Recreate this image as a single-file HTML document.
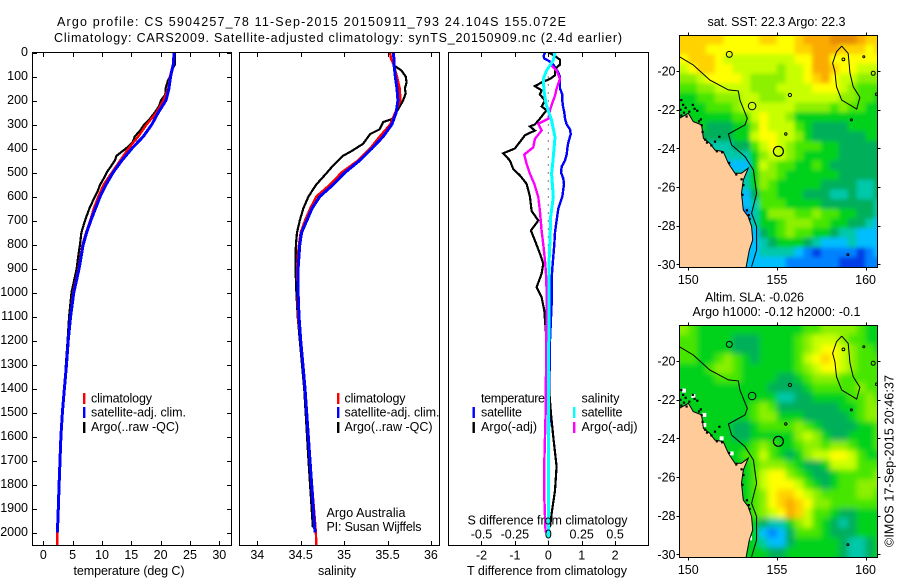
<!DOCTYPE html>
<html lang="en">
<head>
<meta charset="utf-8">
<title>Argo profile CS 5904257_78</title>
<style>
html,body{margin:0;padding:0;background:#fff;}
svg{display:block;font-family:"Liberation Sans",sans-serif;font-size:12.5px;fill:#000;}
text{fill:#000;}
</style>
</head>
<body>
<svg id="chart" xmlns="http://www.w3.org/2000/svg" width="900" height="580" viewBox="0 0 900 580">
<defs>
<clipPath id="clip-t"><rect x="32" y="52" width="200" height="494"/></clipPath>
<clipPath id="clip-s"><rect x="239" y="52" width="201" height="494"/></clipPath>
<clipPath id="clip-d"><rect x="448" y="52" width="201" height="494"/></clipPath>
<clipPath id="clip-m1"><rect x="679.5" y="35.5" width="198" height="231.5"/></clipPath>
<clipPath id="clip-m2"><rect x="679.5" y="325.5" width="198" height="231.5"/></clipPath>
<filter id="soften-sst" filterUnits="userSpaceOnUse" x="640" y="0" width="260" height="300"><feGaussianBlur stdDeviation="2"/></filter>
<filter id="soften-sla" filterUnits="userSpaceOnUse" x="640" y="290" width="260" height="290"><feGaussianBlur stdDeviation="2.8"/></filter>
</defs>
<rect x="0" y="0" width="900" height="580" fill="#fff"/>
<text x="57" y="26" textLength="509" lengthAdjust="spacing">Argo profile: CS 5904257_78 11-Sep-2015 20150911_793 24.104S 155.072E</text>
<text x="54" y="42" textLength="568" lengthAdjust="spacing">Climatology: CARS2009. Satellite-adjusted climatology: synTS_20150909.nc (2.4d earlier)</text>

<g id="map1"></g>
<g id="map2"></g>
<g id="panel-t"></g>
<g id="panel-s"></g>
<g id="panel-d"></g>

<text x="129" y="575" text-anchor="middle" textLength="111" lengthAdjust="spacing">temperature (deg C)</text>
<text x="337" y="575" text-anchor="middle" textLength="38" lengthAdjust="spacing">salinity</text>
<text x="467" y="575" textLength="160" lengthAdjust="spacing">T difference from climatology</text>
<text x="467.5" y="524.5" textLength="160" lengthAdjust="spacing">S difference from climatology</text>

<g>
<rect x="83" y="393" width="2.4" height="11" fill="#f00"/>
<rect x="83" y="407" width="2.4" height="11" fill="#00f"/>
<rect x="83" y="422" width="2.4" height="11" fill="#000"/>
<text x="91" y="402.5" textLength="61" lengthAdjust="spacing">climatology</text>
<text x="91" y="416.5" textLength="95" lengthAdjust="spacing">satellite-adj. clim.</text>
<text x="91" y="431" textLength="88" lengthAdjust="spacing">Argo(..raw -QC)</text>
</g>
<g>
<rect x="337" y="393" width="2.4" height="11" fill="#f00"/>
<rect x="337" y="407" width="2.4" height="11" fill="#00f"/>
<rect x="337" y="422" width="2.4" height="11" fill="#000"/>
<text x="344.5" y="402.5" textLength="61" lengthAdjust="spacing">climatology</text>
<text x="344.5" y="416.5" textLength="95" lengthAdjust="spacing">satellite-adj. clim.</text>
<text x="344.5" y="431" textLength="88" lengthAdjust="spacing">Argo(..raw -QC)</text>
<text x="326.5" y="517" textLength="79" lengthAdjust="spacing">Argo Australia</text>
<text x="326.5" y="531" textLength="95" lengthAdjust="spacing">PI: Susan Wijffels</text>
</g>
<g>
<text x="481" y="402.5" textLength="64" lengthAdjust="spacing">temperature</text>
<text x="481" y="416.5" textLength="41" lengthAdjust="spacing">satellite</text>
<text x="481" y="431" textLength="56" lengthAdjust="spacing">Argo(-adj)</text>
<rect x="472.5" y="407" width="2.4" height="11" fill="#00f"/>
<rect x="472.5" y="422" width="2.4" height="11" fill="#000"/>
<text x="581.5" y="402.5" textLength="38" lengthAdjust="spacing">salinity</text>
<text x="581.5" y="416.5" textLength="41" lengthAdjust="spacing">satellite</text>
<text x="581.5" y="431" textLength="56" lengthAdjust="spacing">Argo(-adj)</text>
<rect x="573" y="407" width="2.4" height="11" fill="#0ff"/>
<rect x="573" y="422" width="2.4" height="11" fill="#f0f"/>
</g>

<text x="707.5" y="26" textLength="138" lengthAdjust="spacing">sat. SST: 22.3 Argo: 22.3</text>
<text x="705" y="301.5" textLength="99" lengthAdjust="spacing">Altim. SLA: -0.026</text>
<text x="692.5" y="316" textLength="168" lengthAdjust="spacing">Argo h1000: -0.12 h2000: -0.1</text>
<text transform="translate(893.5,547) rotate(-90)" textLength="172" lengthAdjust="spacing">©IMOS 17-Sep-2015 20:46:37</text>
</svg>

<script>
// ---- depth axis ----
const depthTicks = [0,100,200,300,400,500,600,700,800,900,1000,1100,1200,1300,1400,1500,1600,1700,1800,1900,2000];
const tempTicks = [0,5,10,15,20,25,30];
const salTicks = [34,34.5,35,35.5,36];
const salTickLabels = ['34','34.5','35','35.5','36'];
const diffTTicks = [-2,-1,0,1,2];
const diffTLabels = ['-2','-1','0','1','2'];
const diffSTicks = [-0.5,-0.25,0,0.25,0.5];
const diffSLabels = ['-0.5','-0.25','0','0.25','0.5'];

// ---- temperature profiles ----
const tempClimDepth = [0,50,100,150,200,250,300,350,400,450,500,550,600,650,700,750,800,900,1000,1100,1200,1300,1400,1500,1600,1700,1800,1900,2000,2054];
const tempClim = [22.3,22.1,21.6,21.3,20.45,19.3,17.6,16.2,14.5,13.1,11.7,10.3,9.4,8.6,8.0,7.3,6.7,6.0,5.1,4.6,4.2,3.9,3.6,3.25,3.0,2.85,2.7,2.55,2.4,2.35];
const tempSatDepth = [0,50,100,150,200,250,300,350,400,450,500,550,600,650,700,750,800,900,1000,1100,1200,1300,1400,1500,1600,1700,1800,1900,2000];
const tempSat = [22.3,22.15,21.7,21.4,20.9,19.6,18.5,17.05,15.1,13.4,11.9,10.7,9.7,8.9,8.1,7.4,6.8,6.1,5.2,4.65,4.25,3.95,3.6,3.25,3.0,2.85,2.7,2.55,2.4];
const tempArgoDepth = [0,50,60,100,120,150,175,200,225,250,275,300,325,350,375,400,430,450,475,500,525,550,575,600,650,700,750,800,850,900,950,1000,1100,1200,1300,1400,1500,1600,1700,1800,1900,1980];
const tempArgo = [22.45,22.45,22.2,21.6,21.2,20.85,20.8,20.06,19.7,19.0,18.2,17.2,16.5,15.6,15.2,14.1,12.5,12.2,11.5,10.8,10.3,9.7,9.3,8.8,7.85,7.1,6.5,6.25,5.95,5.7,5.25,4.8,4.4,4.15,3.85,3.62,3.3,3.05,2.9,2.75,2.6,2.5];

// ---- salinity profiles ----
const salClimDepth = [0,25,50,100,150,200,250,300,350,400,450,500,550,600,650,700,750,800,850,900,1000,1100,1200,1300,1400,1700,2000,2054];
const salClim = [35.53,35.54,35.57,35.61,35.64,35.65,35.59,35.53,35.41,35.3,35.16,34.97,34.84,34.68,34.61,34.55,34.5,34.48,34.465,34.46,34.465,34.47,34.5,34.525,34.55,34.607,34.675,34.68];
const salSatDepth = [0,50,100,150,200,250,300,350,400,450,500,550,600,650,700,750,800,900,1000,1100,1200,1300,1400,1700,2000];
const salSat = [35.57,35.575,35.59,35.61,35.62,35.6,35.55,35.45,35.32,35.18,35.01,34.875,34.72,34.63,34.57,34.51,34.49,34.47,34.47,34.48,34.5,34.525,34.55,34.607,34.665];
const salArgoDepth = [0,40,55,75,100,125,150,170,200,225,250,275,290,320,340,380,410,430,470,510,550,600,650,700,750,800,900,1000,1100,1200,1300,1400,1700,1980];
const salArgo = [35.57,35.57,35.58,35.66,35.71,35.72,35.7,35.71,35.68,35.64,35.6,35.57,35.45,35.41,35.3,35.22,35.09,34.99,34.875,34.78,34.68,34.59,34.53,34.49,34.457,34.445,34.44,34.45,34.465,34.49,34.515,34.54,34.59,34.64];

// ---- difference profiles (T in deg C, S in psu) ----
const dTSatDepth = [0,15,25,40,60,80,100,125,150,175,200,225,250,275,300,320,340,375,400,425,450,475,500,525,550,600,650,700,750,800,850,900,950,1000,1050,1200,1400,1600,2000];
const dTSat = [-0.1,-0.14,-0.12,0.08,0.2,0.28,0.35,0.35,0.35,0.42,0.42,0.44,0.48,0.5,0.55,0.65,0.67,0.6,0.57,0.55,0.5,0.4,0.38,0.45,0.47,0.42,0.3,0.25,0.2,0.18,0.15,0.12,0.1,0.1,0.1,0.05,0.03,0.02,0.01];
const dTArgoDepth = [0,10,30,50,70,95,110,125,140,158,175,200,225,240,276,300,308,325,345,367,400,420,450,485,512,547,600,660,700,742,783,838,880,922,978,1020,1075,1117,1200,1300,1400,1505,1603,1725,1825,1922,1978];
const dTArgo = [0,0.15,0.35,0.35,0.2,0.2,0.05,-0.2,-0.4,-0.2,-0.25,-0.1,-0.2,-0.05,-0.25,-0.4,-0.55,-0.4,-0.7,-0.82,-1.0,-1.35,-1.15,-1.05,-0.85,-0.65,-0.55,-0.5,-0.3,-0.52,-0.4,-0.25,-0.15,-0.2,-0.35,-0.2,-0.12,-0.1,-0.05,0,0.02,0.08,0.15,0.25,0.2,0.1,0.05];
const dSArgoDepth = [35,54,75,110,150,180,210,240,276,297,325,360,395,425,464,505,547,603,660,742,800,867,922,992,1075,1505,1713,1852,2000];
const dSArgo = [0.02,0.025,0.0625,0.0875,0.0625,0.05,0.03,0.0125,0,-0.075,-0.05,-0.1,-0.1125,-0.18,-0.1625,-0.1375,-0.105,-0.075,-0.0625,-0.05,-0.0375,-0.025,-0.0175,-0.0125,-0.0125,-0.02,-0.03,-0.03,-0.02];
const dSSatDepth = [0,33,75,110,158,214,283,353,436,505,603,686,783,880,992,1117,1367,2020];
const dSSat = [0.05,0.0375,-0.0125,-0.0375,-0.0325,-0.0175,0.025,0.05,0.0375,0.025,0.0375,0.0175,0.0125,0.005,0.005,0.005,0,0];

// ---- map grids: colour level per 0.5 deg cell, north to south, west to east ----
const sstRow00 = [10,10,10,10,10,9,9,9,9,10,10,9,9,10,11,11,11,12,12,12,11,10,10];
const sstRow01 = [10,10,10,9,9,9,9,9,9,9,9,9,9,10,10,11,11,11,10,10,10,9,10];
const sstRow02 = [9,10,10,10,9,8,8,8,8,8,8,8,8,9,9,11,11,9,9,9,9,9,9];
const sstRow03 = [8,9,10,10,9,9,8,8,8,8,8,7,8,8,9,11,11,10,9,9,8,8,8];
const sstRow04 = [7,7,8,9,9,9,9,8,7,7,7,7,8,8,9,10,11,9,8,8,7,7,7];
const sstRow05 = [6,6,7,7,8,8,8,8,7,7,7,8,8,8,8,9,9,9,8,7,6,6,6];
const sstRow06 = [5,5,6,6,7,7,7,8,8,7,7,7,8,8,8,8,8,8,7,7,6,6,5];
const sstRow07 = [5,5,5,6,6,6,7,8,8,8,8,8,8,7,7,7,7,6,7,6,6,5,5];
const sstRow08 = [5,5,5,5,5,5,6,6,8,9,8,8,7,5,5,5,5,5,5,5,5,5,5];
const sstRow09 = [5,5,5,4,4,4,5,5,7,9,8,8,8,6,5,4,4,4,4,5,5,5,5];
const sstRow10 = [4,4,4,4,4,4,5,5,8,9,9,8,8,7,5,4,4,4,4,4,4,5,5];
const sstRow11 = [3,3,3,3,3,3,4,4,6,8,9,8,7,6,6,6,5,5,4,4,4,4,4];
const sstRow12 = [3,3,3,3,3,3,3,3,5,7,8,8,7,6,5,5,5,5,4,4,4,4,4];
const sstRow13 = [2,2,2,2,2,2,2,2,5,8,7,6,6,5,5,6,5,4,4,4,4,4,4];
const sstRow14 = [2,2,2,2,2,2,3,3,5,7,7,6,5,5,5,5,5,5,4,4,4,4,4];
const sstRow15 = [3,3,3,3,3,3,3,3,5,7,6,5,5,5,5,5,4,4,4,4,3,3,4];
const sstRow16 = [3,3,3,3,3,3,3,2,4,6,6,5,5,5,4,4,4,3,3,4,3,3,4];
const sstRow17 = [3,3,3,3,3,3,3,2,3,6,6,6,5,5,5,5,4,4,4,4,4,4,3];
const sstRow18 = [3,3,3,3,3,3,3,1,3,5,7,7,7,6,6,7,6,6,5,5,4,4,3];
const sstRow19 = [3,3,3,3,3,3,3,2,3,5,5,6,7,7,7,6,6,5,5,4,4,3,2];
const sstRow20 = [3,3,3,3,3,3,3,2,2,4,5,6,7,6,6,5,5,4,3,3,2,2,2];
const sstRow21 = [3,3,3,3,3,3,3,2,2,3,4,5,5,5,4,3,2,2,2,3,2,2,2];
const sstRow22 = [3,3,3,3,3,3,3,2,2,3,3,3,3,2,1,0,1,1,1,1,0,1,2];
const sstRow23 = [3,3,3,3,3,3,3,2,2,2,2,2,1,1,1,1,1,1,0,0,0,1,1];
const sstGrid = [sstRow00,sstRow01,sstRow02,sstRow03,sstRow04,sstRow05,sstRow06,sstRow07,sstRow08,sstRow09,sstRow10,sstRow11,sstRow12,sstRow13,sstRow14,sstRow15,sstRow16,sstRow17,sstRow18,sstRow19,sstRow20,sstRow21,sstRow22,sstRow23];

const slaRow00 = [7,6,5,5,5,5,5,5,5,5,5,5,5,5,6,6,7,7,7,7,6,5,5];
const slaRow01 = [6,6,5,5,5,5,4,4,4,5,5,5,5,6,7,8,8,8,7,6,6,5,5];
const slaRow02 = [6,6,5,5,5,5,4,4,4,5,5,5,5,6,7,8,9,9,8,7,6,6,5];
const slaRow03 = [6,6,5,5,6,7,6,5,4,5,5,5,5,6,8,9,10,9,8,7,6,6,6];
const slaRow04 = [5,5,5,6,7,7,6,5,5,5,5,5,5,6,7,8,9,9,8,7,6,6,6];
const slaRow05 = [5,5,5,5,6,6,6,5,5,5,5,4,4,5,6,7,7,7,6,6,6,6,6];
const slaRow06 = [5,5,5,5,5,5,5,5,5,5,4,4,4,4,5,6,6,6,6,6,7,6,6];
const slaRow07 = [5,5,5,5,5,5,5,5,5,5,5,3,3,4,4,5,5,5,5,6,6,7,6];
const slaRow08 = [5,5,5,5,5,5,5,5,6,7,6,4,4,4,4,4,4,4,5,5,6,7,7];
const slaRow09 = [5,5,5,5,5,5,5,5,6,7,7,5,5,5,4,4,4,4,4,5,6,7,7];
const slaRow10 = [5,5,5,5,5,5,4,4,5,6,6,6,6,7,6,5,4,4,4,4,5,5,6];
const slaRow11 = [5,5,5,5,5,5,4,4,5,5,5,5,5,7,8,7,5,4,4,5,5,5,6];
const slaRow12 = [5,5,5,5,5,5,5,5,6,7,6,5,5,6,7,7,6,7,7,6,5,5,6];
const slaRow13 = [5,5,5,5,5,5,5,6,6,8,6,5,4,5,7,8,8,9,9,8,6,5,5];
const slaRow14 = [5,5,5,5,5,5,5,5,6,7,7,7,6,5,4,4,5,8,8,8,6,6,6];
const slaRow15 = [5,5,5,5,5,5,5,5,6,8,9,9,7,6,5,4,4,5,6,6,6,6,7];
const slaRow16 = [5,5,5,5,5,5,5,5,6,8,9,9,9,8,6,5,4,5,6,6,7,7,7];
const slaRow17 = [5,5,5,5,5,5,5,5,6,7,9,10,10,9,8,7,6,6,6,6,7,7,6];
const slaRow18 = [5,5,5,5,5,5,5,5,6,7,9,10,11,10,9,7,7,6,6,6,6,6,6];
const slaRow19 = [5,5,5,5,5,5,5,5,6,7,8,9,11,10,8,6,6,5,4,4,5,5,5];
const slaRow20 = [5,5,5,5,5,5,5,5,5,4,3,3,5,7,8,6,5,4,3,4,5,5,5];
const slaRow21 = [5,5,5,5,5,5,5,5,5,2,1,2,4,6,6,6,5,4,4,4,5,5,5];
const slaRow22 = [5,5,5,5,5,5,5,5,5,3,2,2,4,5,5,5,5,5,4,3,3,4,5];
const slaRow23 = [5,5,5,5,5,5,5,5,5,5,4,4,5,5,5,5,5,5,4,3,3,4,5];
const slaGrid = [slaRow00,slaRow01,slaRow02,slaRow03,slaRow04,slaRow05,slaRow06,slaRow07,slaRow08,slaRow09,slaRow10,slaRow11,slaRow12,slaRow13,slaRow14,slaRow15,slaRow16,slaRow17,slaRow18,slaRow19,slaRow20,slaRow21,slaRow22,slaRow23];

const colourLevels = ['#003ce6','#0082ff','#00beff','#00c8aa','#00af5a','#00d21e','#46e600','#8cf000','#c8ff00','#ffff00','#ffd200','#faaa00','#e68c00'];

// ---- geography in degrees (lon, south lat) ----
const coastLon = [149.4,149.49,150.0,150.28,150.75,150.85,151.22,151.5,151.97,152.26,152.63,153.0,153.38,153.1,153.0,153.1,153.38,153.57,153.63,153.44,153.25,149.4];
const coastLat = [22.45,22.45,22.19,22.62,22.79,23.48,23.74,24.09,24.17,24.78,25.29,25.29,25.03,25.64,26.33,27.19,27.53,28.05,28.74,29.26,30.2,30.2];
const isobathLon = [149.49,150.28,151.22,152.26,152.82,152.91,153.33,153.2,152.26,152.44,153.2,153.67,153.85,153.57,153.85,153.85,153.57];
const isobathLat = [19.26,19.69,20.47,20.98,21.03,21.5,22.45,22.79,23.26,23.83,24.43,25.12,26.33,27.36,28.05,29.26,30.12];
const reefLon = [158.65,159.02,159.12,159.3,159.68,159.5,159.12,158.65,158.36,158.27,158.14,158.36,158.65];
const reefLat = [18.71,19.09,20.12,20.81,21.36,21.97,21.76,21.5,20.81,20.03,19.6,19.0,18.71];
const seamountLon = [152.31,153.6,155.73,155.5,158.75,160.43,159.2,159.9,159.0,160.62];
const seamountLat = [19.14,21.81,21.24,23.26,19.4,20.12,22.53,19.26,29.5,21.2];
const seamountSize = [3,3.8,1.6,1.2,1.4,2,1,1,1,1.2];
const argoLon = [155.08];
const argoLat = [24.155];
const argoSize = [5];
const speckLon = [149.6,149.7,149.55,149.75,149.9,150.25,150.35,150.5,150.7,149.6,149.85,150.05,150.6,150.75,150.8,150.95,151.05,151.3,151.6,151.9,152.3,152.7,153.0,153.1,153.05,153.3,153.4,153.45,151.75,151.5];
const speckLat = [21.5,21.75,22.0,22.15,22.35,21.75,21.95,22.05,22.5,22.3,21.9,22.1,22.6,22.8,23.15,23.55,23.7,23.85,24.15,24.2,24.75,25.35,25.6,25.9,26.4,27.2,27.45,27.65,23.4,23.65];
const whiteLon = [150.28,149.76,150.9,150.9,151.88,152.44,153.48,153.48];
const whiteLat = [21.81,21.53,22.79,23.31,24.0,24.78,28.05,29.17];
const mapLonTicks = [150,155,160];
const mapLatTicks = [20,22,24,26,28,30];
const mapLatLabels = ['-20','-22','-24','-26','-28','-30'];

// ---- scales ----
const depthY = d => 52.5 + d * 0.24;
const tempX = v => 43.3 + v * 5.867;
const salX = v => 257.3 + (v - 34) * 86.8;
const dTX = v => 548.3 + v * 33.4;
const dSX = v => 548.3 + v * 133.6;
const lonX = v => 688.3 + (v - 150) * 17.73;
const latY1 = v => 71 + (v - 20) * 19.33;
const latY2 = v => 361 + (v - 20) * 19.33;

const NS = 'http://www.w3.org/2000/svg';
function mk(parent, tag) {
  const e = document.createElementNS(NS, tag);
  parent.appendChild(e);
  return e;
}
function line(parent, x1, y1, x2, y2) {
  const l = mk(parent, 'line');
  l.setAttribute('x1', x1);
  l.setAttribute('y1', y1);
  l.setAttribute('x2', x2);
  l.setAttribute('y2', y2);
  l.setAttribute('stroke', '#000');
  l.setAttribute('stroke-width', '1');
  l.setAttribute('shape-rendering', 'crispEdges');
  return l;
}
function label(parent, x, y, anchor, str) {
  const t = mk(parent, 'text');
  t.setAttribute('x', x);
  t.setAttribute('y', y);
  t.setAttribute('text-anchor', anchor);
  t.textContent = str;
  return t;
}
function frame(parent, x0, x1, y0, y1) {
  const r = mk(parent, 'rect');
  r.setAttribute('x', x0);
  r.setAttribute('y', y0);
  r.setAttribute('width', x1 - x0);
  r.setAttribute('height', y1 - y0);
  r.setAttribute('fill', 'none');
  r.setAttribute('stroke', '#000');
  r.setAttribute('shape-rendering', 'crispEdges');
  
  
}
function series(parent, name, clip, xs, ds, xFn, colour, width) {
  const p = mk(parent, 'polyline');
  p.setAttribute('points', xs.map((v, i) => xFn(v).toFixed(1) + ',' + depthY(ds[i]).toFixed(1)).join(' '));
  p.setAttribute('fill', 'none');
  p.setAttribute('stroke', colour);
  p.setAttribute('stroke-width', width);
  p.setAttribute('stroke-linejoin', 'miter');
  p.setAttribute('shape-rendering', 'crispEdges');
  p.setAttribute('clip-path', 'url(#' + clip + ')');
  
  
}

// ---- temperature panel ----
const gT = document.getElementById('panel-t');
series(gT, 'temperature-argo-line', 'clip-t', tempArgo, tempArgoDepth, tempX, '#000', 2.2);
series(gT, 'temperature-climatology-line', 'clip-t', tempClim, tempClimDepth, tempX, '#f00', 2.4);
series(gT, 'temperature-satellite-line', 'clip-t', tempSat, tempSatDepth, tempX, '#00f', 3);
frame(gT, 32.5, 231.5, 52.5, 545.5);
depthTicks.forEach(d => {
  const y = Math.round(depthY(d)) + 0.5;
  const a = line(gT, 32.5, y, 37, y);
  
  
  const b = line(gT, 227, y, 231.5, y);
  
  
  const t = label(gT, 28, depthY(d) + 3.5, 'end', String(d));
  
  
});
tempTicks.forEach(v => {
  const x = Math.round(tempX(v)) + 0.5;
  const a = line(gT, x, 52.5, x, 57);
  
  
  const b = line(gT, x, 541, x, 545.5);
  
  
  const t = label(gT, tempX(v), 559, 'middle', String(v));
  
  
});

// ---- salinity panel ----
const gS = document.getElementById('panel-s');
series(gS, 'salinity-argo-line', 'clip-s', salArgo, salArgoDepth, salX, '#000', 2.2);
series(gS, 'salinity-climatology-line', 'clip-s', salClim, salClimDepth, salX, '#f00', 2.4);
series(gS, 'salinity-satellite-line', 'clip-s', salSat, salSatDepth, salX, '#00f', 3);
frame(gS, 239.5, 439.5, 52.5, 545.5);
salTicks.forEach((v, i) => {
  const x = Math.round(salX(v)) + 0.5;
  const a = line(gS, x, 52.5, x, 57);
  
  
  const b = line(gS, x, 541, x, 545.5);
  
  
  const t = label(gS, salX(v), 559, 'middle', salTickLabels[i]);
  
  
});

// ---- difference panel ----
const gD = document.getElementById('panel-d');
const zero = mk(gD, 'line');
zero.setAttribute('x1', dTX(0));
zero.setAttribute('y1', depthY(0));
zero.setAttribute('x2', dTX(0));
zero.setAttribute('y2', depthY(2054));
zero.setAttribute('stroke', '#000');
zero.setAttribute('stroke-dasharray', '1 7');


series(gD, 't-satellite-difference-line', 'clip-d', dTSat, dTSatDepth, dTX, '#00f', 2.4);
series(gD, 't-argo-difference-line', 'clip-d', dTArgo, dTArgoDepth, dTX, '#000', 2.2);
series(gD, 's-argo-difference-line', 'clip-d', dSArgo, dSArgoDepth, dSX, '#f0f', 2.4);
series(gD, 's-satellite-difference-line', 'clip-d', dSSat, dSSatDepth, dSX, '#0ff', 3);
frame(gD, 448.5, 648.5, 52.5, 545.5);
diffTTicks.forEach((v, i) => {
  const x = Math.round(dTX(v)) + 0.5;
  const a = line(gD, x, 52.5, x, 57);
  
  
  const b = line(gD, x, 541, x, 545.5);
  
  
  const t = label(gD, dTX(v), 559.5, 'middle', diffTLabels[i]);
  
  
});
diffSTicks.forEach((v, i) => {
  const t = label(gD, dSX(v), 538.5, 'middle', diffSLabels[i]);
  
  
});

// ---- maps ----
function pts(lons, lats, yFn) {
  return lons.map((v, i) => lonX(v).toFixed(1) + ',' + yFn(lats[i]).toFixed(1)).join(' ');
}
function drawMap(g, grid, yFn, clip, softenId, x0, x1, y0, y1, isSla) {
  const wrap = mk(g, 'g');
  wrap.setAttribute('clip-path', 'url(#' + clip + ')');
  
  
  const cells = mk(wrap, 'g');
  cells.setAttribute('filter', 'url(#' + softenId + ')');
  
  
  const bleed = 14;
  grid.forEach((row, j) => {
    row.forEach((lvl, i) => {
      const lon = 149.49 + i * 0.5;
      const lat = 18.13 + j * 0.5;
      let x = lonX(lon);
      let y = yFn(lat);
      let w = 9.4;
      let h = 10.2;
      if (i === 0) { x -= bleed; w += bleed; }
      if (i === row.length - 1) { w += bleed; }
      if (j === 0) { y -= bleed; h += bleed; }
      if (j === grid.length - 1) { h += bleed; }
      const r = mk(cells, 'rect');
      r.setAttribute('x', x.toFixed(1));
      r.setAttribute('y', y.toFixed(1));
      r.setAttribute('width', w.toFixed(1));
      r.setAttribute('height', h.toFixed(1));
      r.setAttribute('fill', colourLevels[lvl]);
      
      
    });
  });
  const geo = mk(g, 'g');
  geo.setAttribute('clip-path', 'url(#' + clip + ')');
  
  
  if (isSla) {
    whiteLon.forEach((v, i) => {
      const w = mk(geo, 'rect');
      w.setAttribute('x', (lonX(v) - 2).toFixed(1));
      w.setAttribute('y', (yFn(whiteLat[i]) - 2).toFixed(1));
      w.setAttribute('width', '4');
      w.setAttribute('height', '4');
      w.setAttribute('fill', '#fff');
      
      
    });
  }
  const land = mk(geo, 'polygon');
  land.setAttribute('points', pts(coastLon, coastLat, yFn));
  land.setAttribute('fill', '#ffcc99');
  land.setAttribute('stroke', '#000');
  land.setAttribute('stroke-width', '1');
  
  
  speckLon.forEach((v, i) => {
    const s = mk(geo, 'rect');
    s.setAttribute('x', (lonX(v) - 1).toFixed(1));
    s.setAttribute('y', (yFn(speckLat[i]) - 1).toFixed(1));
    s.setAttribute('width', '2.2');
    s.setAttribute('height', '2.2');
    s.setAttribute('fill', '#000');
    
    
  });
  const iso = mk(geo, 'polyline');
  iso.setAttribute('points', pts(isobathLon, isobathLat, yFn));
  iso.setAttribute('fill', 'none');
  iso.setAttribute('stroke', '#000');
  iso.setAttribute('stroke-width', '1');
  
  
  const reef = mk(geo, 'polyline');
  reef.setAttribute('points', pts(reefLon, reefLat, yFn));
  reef.setAttribute('fill', 'none');
  reef.setAttribute('stroke', '#000');
  reef.setAttribute('stroke-width', '1');
  
  
  seamountLon.forEach((v, i) => {
    const c = mk(geo, 'circle');
    c.setAttribute('cx', lonX(v).toFixed(1));
    c.setAttribute('cy', yFn(seamountLat[i]).toFixed(1));
    c.setAttribute('r', seamountSize[i]);
    c.setAttribute('fill', 'none');
    c.setAttribute('stroke', '#000');
    
    
  });
  argoLon.forEach((v, i) => {
    const c = mk(geo, 'circle');
    c.setAttribute('cx', lonX(v).toFixed(1));
    c.setAttribute('cy', yFn(argoLat[i]).toFixed(1));
    c.setAttribute('r', argoSize[i]);
    c.setAttribute('fill', 'none');
    c.setAttribute('stroke', '#000');
    c.setAttribute('stroke-width', '1.2');
    
    
  });
  frame(g, x0, x1, y0, y1);
  mapLonTicks.forEach(v => {
    const x = Math.round(lonX(v)) + 0.5;
    const a = line(g, x, y0 - 3, x, y0);
    
    
    const b = line(g, x, y1, x, y1 + 3);
    
    
    const t = label(g, lonX(v), y1 + 16.5, 'middle', String(v));
    
    
  });
  mapLatTicks.forEach((v, i) => {
    const y = Math.round(yFn(v)) + 0.5;
    const a = line(g, x0 - 3, y, x0, y);
    
    
    const b = line(g, x1, y, x1 + 3, y);
    
    
    const t = label(g, x0 - 4, yFn(v) + 4.5, 'end', mapLatLabels[i]);
    
    
  });
}
drawMap(document.getElementById('map1'), sstGrid, latY1, 'clip-m1', 'soften-sst', 679.5, 877.5, 35.5, 267.5, false);
drawMap(document.getElementById('map2'), slaGrid, latY2, 'clip-m2', 'soften-sla', 679.5, 877.5, 325.5, 557.5, true);
</script>
</body>
</html>
